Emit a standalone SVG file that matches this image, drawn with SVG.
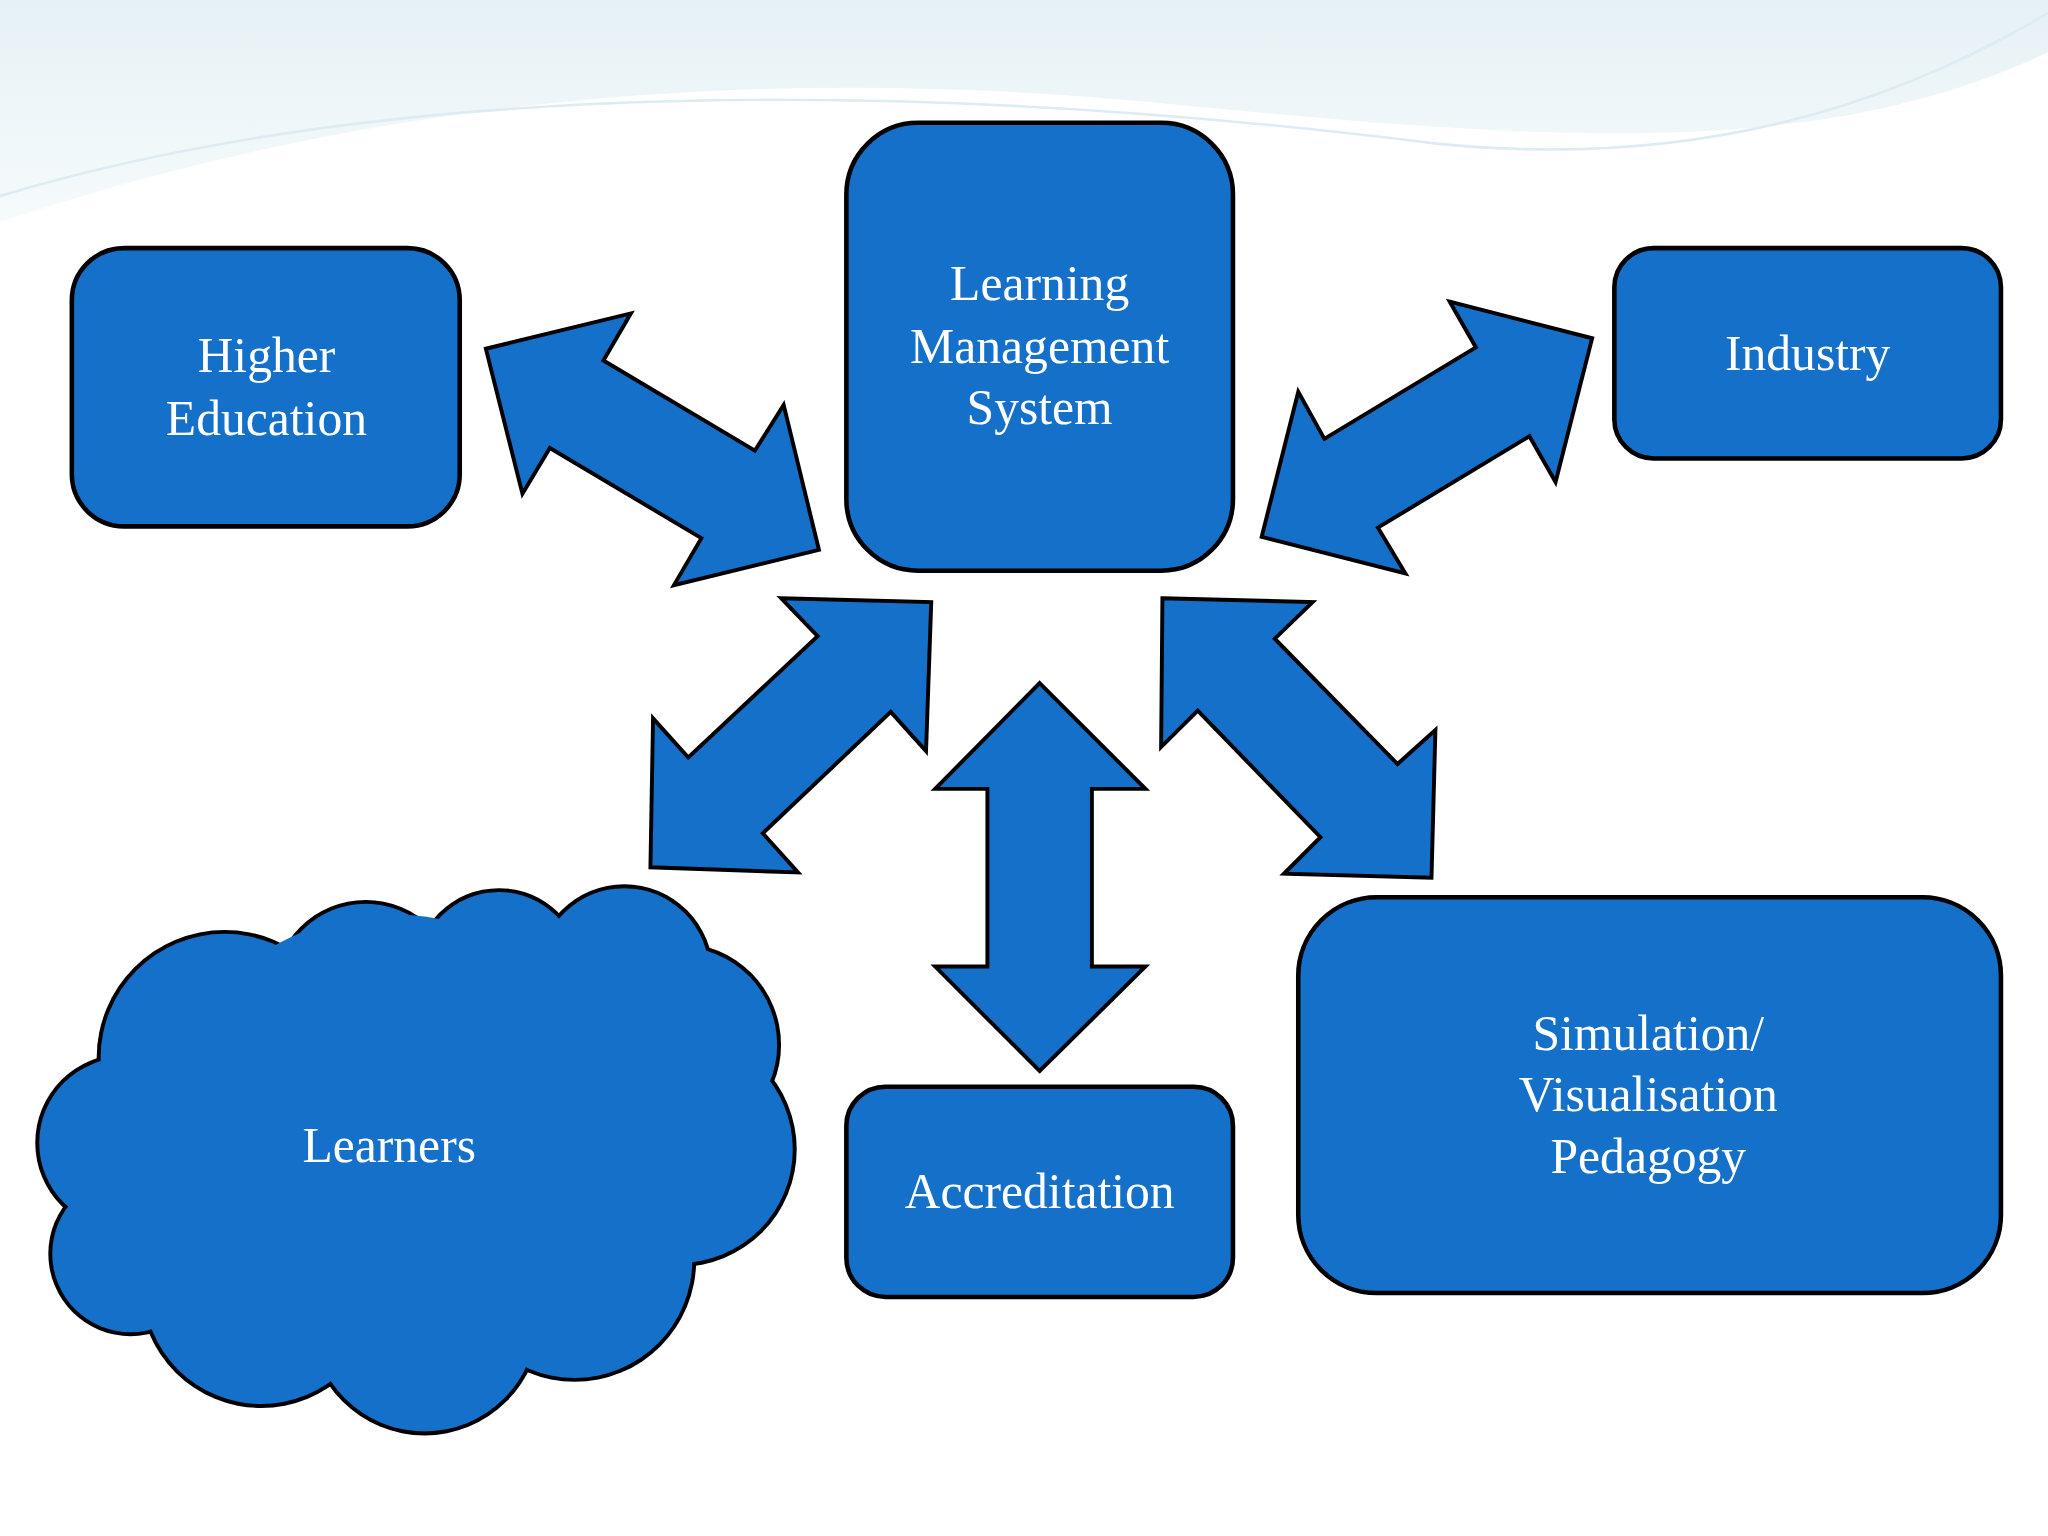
<svg xmlns="http://www.w3.org/2000/svg" width="2048" height="1536" viewBox="0 0 2048 1536">
<defs>
<style>
.n{fill:#1470c8;stroke:#000;stroke-width:3.5;stroke-linejoin:round}
.a{fill:#1470c8;stroke:#000;stroke-width:3;stroke-linejoin:miter}
.t{fill:#fff;font-family:"Liberation Serif","DejaVu Serif",serif;font-size:38px;text-anchor:middle}
.cs{fill:#000}
.cf{fill:#1470c8}
</style>
<linearGradient id="bg" x1="0" y1="0" x2="0" y2="1">
<stop offset="0" stop-color="#e6f1f5"/><stop offset="1" stop-color="#f6fbfc"/>
</linearGradient>
</defs>
<rect width="2048" height="1536" fill="#fff"/>
<g transform="scale(1.3061)">
<g id="background">
<path d="M0,0 H1568 V40 C1400,120 1200,110 900,80 C600,50 300,70 0,170 Z" fill="url(#bg)"/>
<path d="M0,150 C300,60 700,60 1100,110 C1300,130 1450,80 1568,10" fill="none" stroke="#dcecf2" stroke-width="2"/>
</g>
<g id="connectors">
<polygon class="a" points="372,267 483,240 462,276 578,345 600,310 627,421 516,448 537,412 421,343 400,378"/>
<polygon class="a" points="1110,231 1219,259 1191,369 1171,334 1055,404 1076,439 966,411 994,300 1014,336 1130,266"/>
<polygon class="a" points="598,458 713,461 709,575 682,545 584,638 611,668 498,664 500,550 527,580 626,487"/>
<polygon class="a" points="796,523 877,604 836,604 836,740 877,740 796,820 716,740 756,740 756,604 716,604"/>
<polygon class="a" points="890,458 1005,461 976,489 1070,585 1099,559 1096,672 983,669 1011,641 917,544 889,572"/>
</g>
<g id="higher-education">
<rect class="n" x="55" y="190" width="297" height="213" rx="40"/>
<text class="t" x="204" y="285">Higher</text>
<text class="t" x="204" y="333">Education</text>
</g>
<g id="lms">
<rect class="n" x="648" y="94" width="296" height="343" rx="55"/>
<text class="t" x="796" y="230">Learning</text>
<text class="t" x="796" y="278">Management</text>
<text class="t" x="796" y="325">System</text>
</g>
<g id="industry">
<rect class="n" x="1236" y="190" width="296" height="161" rx="30"/>
<text class="t" x="1384" y="283">Industry</text>
</g>
<g id="accreditation">
<rect class="n" x="648" y="832" width="296" height="161" rx="30"/>
<text class="t" x="796" y="925">Accreditation</text>
</g>
<g id="simulation">
<rect class="n" x="994" y="687" width="538" height="303" rx="60"/>
<text class="t" x="1262" y="804">Simulation/</text>
<text class="t" x="1262" y="851">Visualisation</text>
<text class="t" x="1262" y="898">Pedagogy</text>
</g>
<g id="learners">
<g class="cs">
<circle cx="172" cy="810" r="98"/><circle cx="280" cy="760" r="71"/><circle cx="382" cy="745" r="65"/>
<circle cx="478" cy="745" r="68"/><circle cx="520" cy="800" r="78"/><circle cx="520" cy="880" r="90"/>
<circle cx="440" cy="965" r="93"/><circle cx="325" cy="1010" r="89"/><circle cx="200" cy="985" r="93"/>
<circle cx="100" cy="960" r="63"/><circle cx="95" cy="875" r="68"/>
</g>
<g class="cf">
<circle cx="300" cy="880" r="180"/>
<circle cx="172" cy="810" r="95"/><circle cx="280" cy="760" r="68"/><circle cx="382" cy="745" r="62"/>
<circle cx="478" cy="745" r="65"/><circle cx="520" cy="800" r="75"/><circle cx="520" cy="880" r="87"/>
<circle cx="440" cy="965" r="90"/><circle cx="325" cy="1010" r="86"/><circle cx="200" cy="985" r="90"/>
<circle cx="100" cy="960" r="60"/><circle cx="95" cy="875" r="65"/>
</g>
<text class="t" x="298" y="890">Learners</text>
</g>
</g>
</svg>
